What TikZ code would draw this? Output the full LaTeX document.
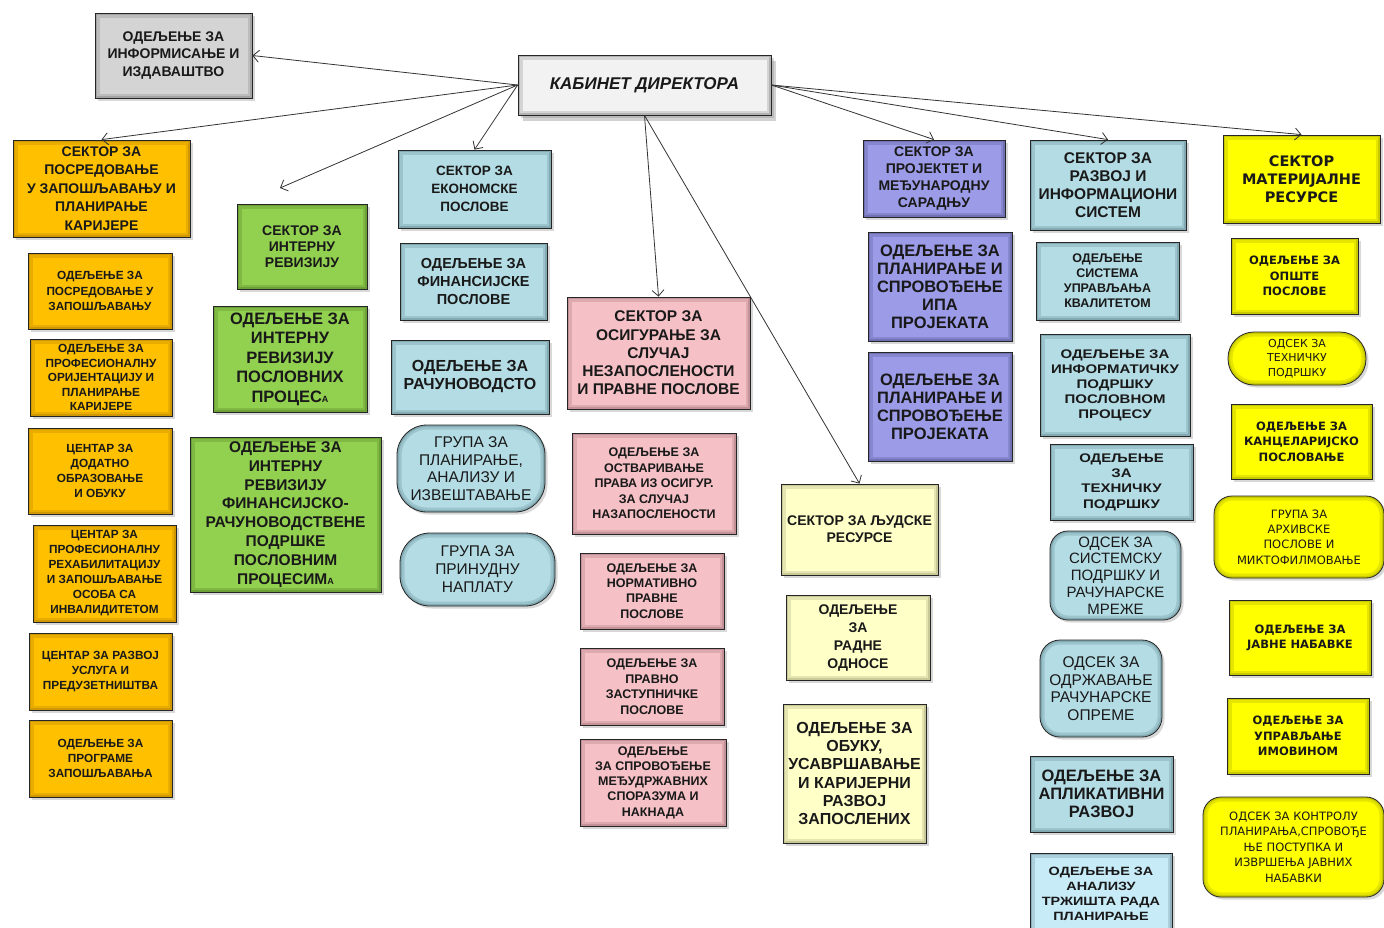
\documentclass[tikz,border=0pt]{standalone}
\usepackage{fontspec}
\setmainfont{Liberation Sans}
\newfontfamily\widesans[FakeStretch=1.2]{Liberation Sans}
\newfontfamily\dejavu{DejaVu Sans}
\usetikzlibrary{shadows,arrows.meta}
\definecolor{cOr}{HTML}{FFC000}\definecolor{cOrD}{HTML}{9A6A00}
\definecolor{cGr}{HTML}{92D050}\definecolor{cGrD}{HTML}{3F6A1A}
\definecolor{cBl}{HTML}{B4DCE4}\definecolor{cBlD}{HTML}{4A7078}
\definecolor{cBl2}{HTML}{C8EBF8}
\definecolor{cPk}{HTML}{F5C1C6}\definecolor{cPkD}{HTML}{8A5A60}
\definecolor{cCr}{HTML}{FFFFC8}\definecolor{cCrD}{HTML}{8A8A60}
\definecolor{cPu}{HTML}{9B9BE8}\definecolor{cPuD}{HTML}{3E3E78}
\definecolor{cYe}{HTML}{FFFF00}\definecolor{cYeD}{HTML}{8A8A00}
\definecolor{cGy}{HTML}{D4D4D4}\definecolor{cGyD}{HTML}{6A6A6A}
\definecolor{cCab}{HTML}{F2F2F2}
\tikzset{
  bx/.style={draw=black!85, line width=0.8pt, align=center, inner sep=0.5pt, text=black!90,
    drop shadow={shadow xshift=2.5pt, shadow yshift=-2.5pt, opacity=0.3}},
  glow/.style={path picture={
    \draw[line width=9pt, draw=#1, opacity=0.22] (path picture bounding box.south west) rectangle (path picture bounding box.north east);
    \draw[line width=4pt, draw=#1, opacity=0.3] (path picture bounding box.south west) rectangle (path picture bounding box.north east);}},
  glowr/.style 2 args={path picture={
    \draw[line width=9pt, draw=#1, opacity=0.22, rounded corners=#2] (path picture bounding box.south west) rectangle (path picture bounding box.north east);
    \draw[line width=4pt, draw=#1, opacity=0.3, rounded corners=#2] (path picture bounding box.south west) rectangle (path picture bounding box.north east);}},
  orb/.style={bx, fill=cOr, glow=cOrD},
  grb/.style={bx, fill=cGr, glow=cGrD},
  cyb/.style={bx, fill=cBl, glow=cBlD},
  cyr/.style={bx, fill=cBl, rounded corners=#1, glowr={cBlD}{#1}},
  lbb/.style={bx, fill=cBl2, glow=cBlD},
  pkb/.style={bx, fill=cPk, glow=cPkD},
  crb/.style={bx, fill=cCr, glow=cCrD},
  pub/.style={bx, fill=cPu, glow=cPuD},
  yeb/.style={bx, fill=cYe, glow=cYeD},
  yer/.style={bx, fill=cYe, rounded corners=#1, glowr={cYeD}{#1}},
  gyb/.style={bx, fill=cGy, glow=cGyD},
  cabb/.style={bx, fill=cCab, glow=cGyD, drop shadow={shadow xshift=5pt, shadow yshift=-6pt, opacity=0.35},
    font=\fontsize{17pt}{20pt}\selectfont\bfseries\itshape},
  fs/.style 2 args={font=\fontsize{#1pt}{#2pt}\selectfont\bfseries},
  fn/.style 2 args={font=\fontsize{#1pt}{#2pt}\selectfont},
  fw/.style 2 args={font=\widesans\fontsize{#1pt}{#2pt}\selectfont\bfseries},
  fd/.style 2 args={font=\dejavu\fontsize{#1pt}{#2pt}\selectfont\bfseries},
  fdn/.style 2 args={font=\dejavu\fontsize{#1pt}{#2pt}\selectfont},
  conn/.style={draw=black!80, line width=0.8pt, -{Straight Barb[length=6pt,width=12pt]}},
}
\newcommand\bx[7]{\node[#6, minimum width={(#4-#2)*1pt}, minimum height={(#5-#3)*1pt}] (#1) at ({(#2+#4)/2},{(#3+#5)/2}) {#7};}
\newcommand\smA{{\fontsize{9pt}{9pt}\selectfont А}}
\begin{document}
\begin{tikzpicture}[x=1pt,y=-1pt]
\fill[white] (0,0) rectangle (1384,927);
\useasboundingbox (0,0) rectangle (1384,927);
% top
\bx{info}{95}{13}{252}{98}{gyb,fs={14}{17.5}}{ОДЕЉЕЊЕ ЗА\\ИНФОРМИСАЊЕ И\\ИЗДАВАШТВО}
\bx{cab}{518}{55}{771}{115}{cabb}{КАБИНЕТ ДИРЕКТОРА}
% column 1
\bx{s1}{13}{140}{190}{237}{orb,fs={14}{18.5}}{СЕКТОР ЗА\\ПОСРЕДОВАЊЕ\\У ЗАПОШЉАВАЊУ И\\ПЛАНИРАЊЕ\\КАРИЈЕРЕ}
\bx{o11}{28}{253}{172}{329}{orb,fs={11.8}{15.5}}{ОДЕЉЕЊЕ ЗА\\ПОСРЕДОВАЊЕ У\\ЗАПОШЉАВАЊУ}
\bx{o12}{30}{339}{172}{416}{orb,fs={11.8}{14.5}}{ОДЕЉЕЊЕ ЗА\\ПРОФЕСИОНАЛНУ\\ОРИЈЕНТАЦИЈУ И\\ПЛАНИРАЊЕ\\КАРИЈЕРЕ}
\bx{o13}{28}{428}{172}{514}{orb,fs={11.8}{15}}{ЦЕНТАР ЗА\\ДОДАТНО\\ОБРАЗОВАЊЕ\\И ОБУКУ}
\bx{o14}{33}{525}{176}{622}{orb,fs={11.8}{15}}{ЦЕНТАР ЗА\\ПРОФЕСИОНАЛНУ\\РЕХАБИЛИТАЦИЈУ\\И ЗАПОШЉАВАЊЕ\\ОСОБА СА\\ИНВАЛИДИТЕТОМ}
\bx{o15}{29}{633}{172}{710}{orb,fs={11.8}{15}}{ЦЕНТАР ЗА РАЗВОЈ\\УСЛУГА И\\ПРЕДУЗЕТНИШТВА}
\bx{o16}{29}{720}{172}{797}{orb,fs={11.8}{15}}{ОДЕЉЕЊЕ ЗА\\ПРОГРАМЕ\\ЗАПОШЉАВАЊА}
% column 2
\bx{s2}{237}{204}{367}{289}{grb,fs={14}{16}}{СЕКТОР ЗА\\ИНТЕРНУ\\РЕВИЗИЈУ}
\bx{o21}{213}{306}{367}{412}{grb,fs={16.5}{19.5}}{ОДЕЉЕЊЕ ЗА\\ИНТЕРНУ\\РЕВИЗИЈУ\\ПОСЛОВНИХ\\ПРОЦЕС\smA}
\bx{o22}{190}{437}{381}{592}{grb,fs={15.5}{18.8}}{ОДЕЉЕЊЕ ЗА\\ИНТЕРНУ\\РЕВИЗИЈУ\\ФИНАНСИЈСКО-\\РАЧУНОВОДСТВЕНЕ\\ПОДРШКЕ\\ПОСЛОВНИМ\\ПРОЦЕСИМ\smA}
% column 3
\bx{s3}{398}{150}{551}{228}{cyb,fs={13.5}{18}}{СЕКТОР ЗА\\ЕКОНОМСКЕ\\ПОСЛОВЕ}
\bx{o31}{400}{243}{547}{320}{cyb,fs={14.5}{18.3}}{ОДЕЉЕЊЕ ЗА\\ФИНАНСИЈСКЕ\\ПОСЛОВЕ}
\bx{o32}{391}{340}{549}{414}{cyb,fs={16}{18}}{ОДЕЉЕЊЕ ЗА\\РАЧУНОВОДСТО}
\bx{o33}{397}{425}{545}{512}{cyr=30pt,fn={15.5}{17.5}}{ГРУПА ЗА\\ПЛАНИРАЊЕ,\\АНАЛИЗУ И\\ИЗВЕШТАВАЊЕ}
\bx{o34}{400}{533}{555}{606}{cyr=30pt,fn={15.5}{18}}{ГРУПА ЗА\\ПРИНУДНУ\\НАПЛАТУ}
% column 4
\bx{s4}{567}{297}{750}{409}{pkb,fs={15.5}{18.3}}{СЕКТОР ЗА\\ОСИГУРАЊЕ ЗА\\СЛУЧАЈ\\НЕЗАПОСЛЕНОСТИ\\И ПРАВНЕ ПОСЛОВЕ}
\bx{o41}{572}{433}{736}{534}{pkb,fs={12.5}{15.5}}{ОДЕЉЕЊЕ ЗА\\ОСТВАРИВАЊЕ\\ПРАВА ИЗ ОСИГУР.\\ЗА СЛУЧАЈ\\НАЗАПОСЛЕНОСТИ}
\bx{o42}{580}{553}{724}{629}{pkb,fs={12.5}{15.3}}{ОДЕЉЕЊЕ ЗА\\НОРМАТИВНО\\ПРАВНЕ\\ПОСЛОВЕ}
\bx{o43}{580}{648}{724}{725}{pkb,fs={12.5}{15.5}}{ОДЕЉЕЊЕ ЗА\\ПРАВНО\\ЗАСТУПНИЧКЕ\\ПОСЛОВЕ}
\bx{o44}{580}{739}{726}{826}{pkb,fs={12.5}{15.3}}{ОДЕЉЕЊЕ\\ЗА СПРОВОЂЕЊЕ\\МЕЂУДРЖАВНИХ\\СПОРАЗУМА И\\НАКНАДА}
% column 5
\bx{s5}{781}{484}{938}{575}{crb,fs={14}{17}}{СЕКТОР ЗА ЉУДСКЕ\\РЕСУРСЕ}
\bx{o51}{786}{595}{930}{680}{crb,fs={14}{18}}{ОДЕЉЕЊЕ\\ЗА\\РАДНЕ\\ОДНОСЕ}
\bx{o52}{783}{704}{926}{843}{crb,fs={16}{18.3}}{ОДЕЉЕЊЕ ЗА\\ОБУКУ,\\УСАВРШАВАЊЕ\\И КАРИЈЕРНИ\\РАЗВОЈ\\ЗАПОСЛЕНИХ}
% column 6
\bx{s6}{863}{140}{1005}{217}{pub,fs={14}{17}}{СЕКТОР ЗА\\ПРОЈЕКТЕТ И\\МЕЂУНАРОДНУ\\САРАДЊУ}
\bx{o61}{868}{232}{1012}{341}{pub,fs={16.5}{18}}{ОДЕЉЕЊЕ ЗА\\ПЛАНИРАЊЕ И\\СПРОВОЂЕЊЕ\\ИПА\\ПРОЈЕКАТА}
\bx{o62}{868}{352}{1012}{461}{pub,fs={16.5}{18}}{ОДЕЉЕЊЕ ЗА\\ПЛАНИРАЊЕ И\\СПРОВОЂЕЊЕ\\ПРОЈЕКАТА}
% column 7
\bx{s7}{1030}{140}{1186}{230}{cyb,fs={15.5}{18}}{СЕКТОР ЗА\\РАЗВОЈ И\\ИНФОРМАЦИОНИ\\СИСТЕМ}
\bx{o71}{1036}{242}{1179}{320}{cyb,fs={12.5}{15}}{ОДЕЉЕЊЕ\\СИСТЕМА\\УПРАВЉАЊА\\КВАЛИТЕТОМ}
\bx{o72}{1040}{334}{1190}{436}{cyb,fw={12.5}{15}}{ОДЕЉЕЊЕ ЗА\\ИНФОРМАТИЧКУ\\ПОДРШКУ\\ПОСЛОВНОМ\\ПРОЦЕСУ}
\bx{o73}{1050}{444}{1193}{520}{cyb,fw={12.5}{15.3}}{ОДЕЉЕЊЕ\\ЗА\\ТЕХНИЧКУ\\ПОДРШКУ}
\bx{o74}{1050}{531}{1181}{620}{cyr=18pt,fn={15}{16.8}}{ОДСЕК ЗА\\СИСТЕМСКУ\\ПОДРШКУ И\\РАЧУНАРСКЕ\\МРЕЖЕ}
\bx{o75}{1040}{640}{1162}{737}{cyr=20pt,fn={15.5}{17.5}}{ОДСЕК ЗА\\ОДРЖАВАЊЕ\\РАЧУНАРСКЕ\\ОПРЕМЕ}
\bx{o76}{1030}{756}{1173}{832}{cyb,fs={16.5}{18}}{ОДЕЉЕЊЕ ЗА\\АПЛИКАТИВНИ\\РАЗВОЈ}
\bx{o77}{1030}{853}{1172}{935}{lbb,fw={12}{15}}{ОДЕЉЕЊЕ ЗА\\АНАЛИЗУ\\ТРЖИШТА РАДА\\ПЛАНИРАЊЕ}
% column 8
\bx{s8}{1223}{135}{1380}{223}{yeb,fd={14.5}{18}}{СЕКТОР\\МАТЕРИЈАЛНЕ\\РЕСУРСЕ}
\bx{o81}{1231}{238}{1358}{314}{yeb,fd={11.5}{15.5}}{ОДЕЉЕЊЕ ЗА\\ОПШТЕ\\ПОСЛОВЕ}
\bx{o82}{1228}{332}{1366}{385}{yer=26pt,fdn={11}{14.5}}{ОДСЕК ЗА\\ТЕХНИЧКУ\\ПОДРШКУ}
\bx{o83}{1231}{404}{1372}{479}{yeb,fd={11.5}{15.5}}{ОДЕЉЕЊЕ ЗА\\КАНЦЕЛАРИЈСКО\\ПОСЛОВАЊЕ}
\bx{o84}{1214}{496}{1384}{578}{yer=18pt,fdn={11.5}{15.3}}{ГРУПА ЗА\\АРХИВСКЕ\\ПОСЛОВЕ И\\МИКТОФИЛМОВАЊЕ}
\bx{o85}{1229}{600}{1371}{675}{yeb,fd={11.5}{15}}{ОДЕЉЕЊЕ ЗА\\ЈАВНЕ НАБАВКЕ}
\bx{o86}{1227}{698}{1369}{774}{yeb,fd={11.5}{15.5}}{ОДЕЉЕЊЕ ЗА\\УПРАВЉАЊЕ\\ИМОВИНОМ}
\bx{o87}{1203}{797}{1384}{897}{yer=18pt,fdn={11.5}{15.5}}{ОДСЕК ЗА КОНТРОЛУ\\ПЛАНИРАЊА,СПРОВОЂЕ\\ЊЕ ПОСТУПКА И\\ИЗВРШЕЊА ЈАВНИХ\\НАБАВКИ}
% connectors
\coordinate (c2) at (280,188);
\draw[conn] (cab.west) -- (info.east);
\draw[conn] (cab.west) -- (s1.north);
\draw[conn] (cab.west) -- (c2);
\draw[conn] (cab.west) -- (s3.north);
\draw[conn] (cab.south) -- (s4.north);
\draw[conn] (cab.south) -- (s5.north);
\draw[conn] (cab.east) -- (s6.north);
\draw[conn] (cab.east) -- (s7.north);
\draw[conn] (cab.east) -- (s8.north);
\end{tikzpicture}
\end{document}
